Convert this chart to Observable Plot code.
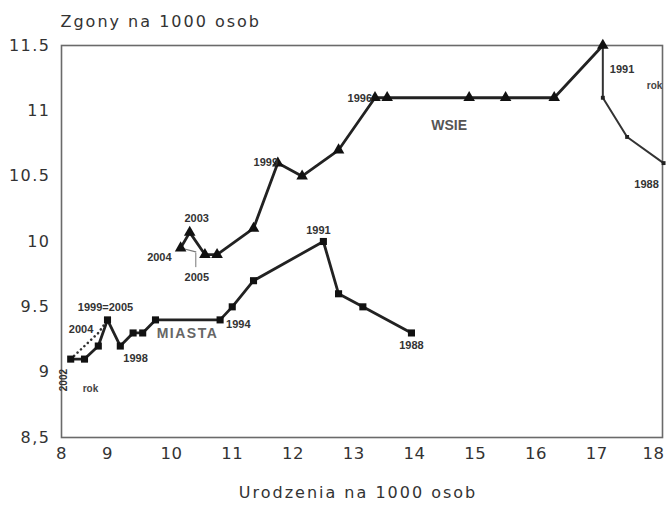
<!DOCTYPE html>
<html><head><meta charset="utf-8">
<script src="https://cdn.jsdelivr.net/npm/d3@7"></script>
<script src="https://cdn.jsdelivr.net/npm/@observablehq/plot@0.6"></script>
<style>
body{margin:0;background:#fff;}
svg{font-family:"DejaVu Sans",sans-serif;}
svg [aria-label="y-axis tick label"] text{letter-spacing:1.5px;}
svg [aria-label="x-axis tick label"] text{letter-spacing:0.5px;}
</style></head><body><div id="chart"></div>
<script>
// ---- data ----
const titleText = "Zgony na 1000 osob";
const xLabelText = "Urodzenia na 1000 osob";
const xTicks = [8, 9, 10, 11, 12, 13, 14, 15, 16, 17, 18];
const yTicks = [8.5, 9, 9.5, 10, 10.5, 11, 11.5];
const yTickLabels = ["8,5", "9", "9.5", "10", "10.5", "11", "11.5"];

// MIASTA (towns): solid 1988-2002
const miastaYears  = [1988, 1989, 1990, 1991, 1992, 1993, 1994, 1995, 1996, 1997, 1998, 1999, 2000, 2001, 2002];
const miastaBirths = [13.95, 13.15, 12.75, 12.5, 11.35, 11.0, 10.8, 9.75, 9.55, 9.4, 9.2, 9.0, 8.8, 8.5, 8.2];
const miastaDeaths = [9.3, 9.5, 9.6, 10.0, 9.7, 9.5, 9.4, 9.4, 9.3, 9.3, 9.2, 9.4, 9.2, 9.1, 9.1];
// MIASTA dotted continuation 2002-2005
const miastaLateYears  = [2002, 2003, 2004, 2005];
const miastaLateBirths = [8.2, 8.5, 8.8, 9.0];
const miastaLateDeaths = [9.1, 9.2, 9.3, 9.4];

// WSIE (villages): 1988-1991 thin segment, 1991-2004 triangles, 2005
const wsieEarlyYears  = [1988, 1989, 1990, 1991];
const wsieEarlyBirths = [18.1, 17.5, 17.1, 17.1];
const wsieEarlyDeaths = [10.6, 10.8, 11.1, 11.5];
const wsieYears  = [1991, 1992, 1993, 1994, 1995, 1996, 1997, 1998, 1999, 2000, 2001, 2002, 2003, 2004];
const wsieBirths = [17.1, 16.3, 15.5, 14.9, 13.55, 13.35, 12.75, 12.15, 11.75, 11.35, 10.75, 10.55, 10.3, 10.15];
const wsieDeaths = [11.5, 11.1, 11.1, 11.1, 11.1, 11.1, 10.7, 10.5, 10.6, 10.1, 9.9, 9.9, 10.07, 9.95];
const wsieLateYears  = [2004, 2005];
const wsieLateBirths = [10.15, 10.4];
const wsieLateDeaths = [9.95, 9.92];

const miastaLabelYears = [1991, 1988, 1994, 1998, 1999, 2004, 2002];
const miastaLabelTexts = ["1991", "1988", "1994", "1998", "1999=2005", "2004", "2002"];
const wsieLabelYears = [1991, 1988, 1996, 1999, 2003, 2004, 2005];
const wsieLabelTexts = ["1991", "1988", "1996", "1999", "2003", "2004", "2005"];
const seriesNames = ["MIASTA", "WSIE"];
const yearWord = "rok";

// ---- build tables ----
const zip = (ys, xs, vs) => ys.map((y, i) => ({year: y, births: xs[i], deaths: vs[i]}));
const miasta = zip(miastaYears, miastaBirths, miastaDeaths);
const miastaLate = zip(miastaLateYears, miastaLateBirths, miastaLateDeaths);
const wsie = zip(wsieYears, wsieBirths, wsieDeaths);
const wsieEarly = zip(wsieEarlyYears, wsieEarlyBirths, wsieEarlyDeaths);
const wsieLate = zip(wsieLateYears, wsieLateBirths, wsieLateDeaths);
const allM = miasta.concat(miastaLate);
const allW = wsie.concat(wsieEarly, wsieLate);
const findPt = (arr, y) => arr.find(d => d.year === y);

// the reference x axis is unevenly spaced between 8 and 10: piecewise-linear scale transform
const xWarp = d3.scaleLinear().domain([8, 9, 10, 18]).range([0, 46, 110, 596]);

// label layout (offsets in px)
const mOff = {
  "1991": {dx: -5, dy: -11, anchor: "middle"},
  "1988": {dx: 0, dy: 13, anchor: "middle"},
  "1994": {dx: 6, dy: 5, anchor: "start"},
  "1998": {dx: 3, dy: 12, anchor: "start"},
  "1999=2005": {dx: -2, dy: -12, anchor: "middle"},
  "2004": {dx: -5, dy: -3, anchor: "end"}
};
const wOff = {
  "1991": {dx: 7, dy: 24, anchor: "start"},
  "1988": {dx: -17, dy: 21, anchor: "middle"},
  "1996": {dx: -3, dy: 1, anchor: "end"},
  "1999": {dx: -12, dy: -1, anchor: "middle"},
  "2003": {dx: 7, dy: -14, anchor: "middle"},
  "2004": {dx: -9, dy: 9, anchor: "end"},
  "2005": {dx: 1, dy: 26, anchor: "middle"}
};
const mLabels = miastaLabelYears.map((y, i) => ({...findPt(allM, y), text: miastaLabelTexts[i]})).filter(d => d.text !== "2002");
const m2002 = [{...findPt(allM, 2002), text: "2002"}];
const wLabels = wsieLabelYears.map((y, i) => ({...findPt(allW, y), text: wsieLabelTexts[i]}));

const smallFont = "Liberation Sans, sans-serif";
const labelMarks = (arr, off) => arr.map(d => Plot.text([d], {
  x: "births", y: "deaths", text: "text",
  dx: off[d.text].dx, dy: off[d.text].dy, textAnchor: off[d.text].anchor,
  fontSize: 11, fill: "#333", fontWeight: "bold", fontFamily: smallFont
}));

const xAxisOpts = {tickSize: 0, tickPadding: 10, fontSize: 16.5, label: null, tickFormat: d => String(d)};

const chart = Plot.plot({
  width: 666, height: 507,
  marginLeft: 61, marginRight: 4, marginTop: 45, marginBottom: 70,
  x: {type: "linear", transform: v => xWarp(v), domain: [0, 601]},
  y: {domain: [8.5, 11.5]},
  style: {color: "#333", background: "#fff"},
  marks: [
    Plot.frame({stroke: "#6a6a6a", strokeWidth: 1.6}),
    Plot.axisY(yTicks, {tickSize: 0, tickPadding: 11, fontSize: 16, label: null,
      tickFormat: d => yTickLabels[yTicks.indexOf(d)]}),
    Plot.axisX(xTicks.slice(0, -1), xAxisOpts),
    Plot.axisX(xTicks.slice(-1), {...xAxisOpts, dx: -4}),
    Plot.text([titleText], {frameAnchor: "top-left", dx: -1, dy: -30, textAnchor: "start", fontSize: 16, fill: "#333"}),
    Plot.text([xLabelText], {frameAnchor: "bottom", dy: 60, dx: -4, fontSize: 16, fill: "#333"}),
    // MIASTA
    Plot.line(miastaLate, {x: "births", y: "deaths", stroke: "#333", strokeWidth: 2.6, strokeDasharray: "0.1,4.6", strokeLinecap: "round"}),
    Plot.line(miasta, {x: "births", y: "deaths", stroke: "#222", strokeWidth: 2.8}),
    Plot.dot(miasta, {x: "births", y: "deaths", symbol: "square", r: 4, fill: "#111"}),
    // WSIE
    Plot.line(wsieEarly, {x: "births", y: "deaths", stroke: "#333", strokeWidth: 2}),
    Plot.dot(wsieEarly.slice(0, 3), {x: "births", y: "deaths", symbol: "square", r: 2.2, fill: "#222"}),
    Plot.line(wsieLate, {x: "births", y: "deaths", stroke: "#777", strokeWidth: 1.2}),
    Plot.line(wsie, {x: "births", y: "deaths", stroke: "#222", strokeWidth: 2.8}),
    Plot.dot(wsie, {x: "births", y: "deaths", symbol: "triangle", r: 4.3, fill: "#111"}),
    Plot.ruleX(wsieLate.slice(1), {x: "births", y1: d => d.deaths - 0.01, y2: d => d.deaths - 0.12, stroke: "#777", strokeWidth: 1}),
    ...labelMarks(mLabels, mOff),
    ...labelMarks(wLabels, wOff),
    Plot.text(m2002, {x: "births", y: "deaths", text: "text", rotate: -90, dx: -7, dy: 21, fontSize: 10, fontWeight: "bold", fill: "#333", fontFamily: smallFont}),
    Plot.text(m2002, {x: "births", y: "deaths", text: () => yearWord, dx: 12, dy: 30, textAnchor: "start", fontSize: 10, fontWeight: "bold", fill: "#444", fontFamily: smallFont}),
    Plot.text([wsie[0]], {x: "births", y: "deaths", text: () => yearWord, dx: 44, dy: 40, textAnchor: "start", fontSize: 10, fontWeight: "bold", fill: "#444", fontFamily: smallFont}),
    Plot.text([findPt(miasta, 1995)], {x: "births", y: "deaths", text: () => seriesNames[0], dx: 32, dy: 14, fontSize: 14, fontWeight: "bold", fill: "#666", fontFamily: smallFont}),
    Plot.text([findPt(wsie, 1994)], {x: "births", y: "deaths", text: () => seriesNames[1], dx: -20, dy: 28, fontSize: 14, fontWeight: "bold", fill: "#555", fontFamily: smallFont})
  ]
});
document.getElementById("chart").appendChild(chart);
d3.select(chart).selectAll("text").filter(function () { return this.textContent === titleText || this.textContent === xLabelText; })
  .attr("letter-spacing", "2px");
d3.select(chart).selectAll("text").filter(function () { return this.textContent === seriesNames[0]; })
  .attr("letter-spacing", "1.5px");
</script></body></html>
